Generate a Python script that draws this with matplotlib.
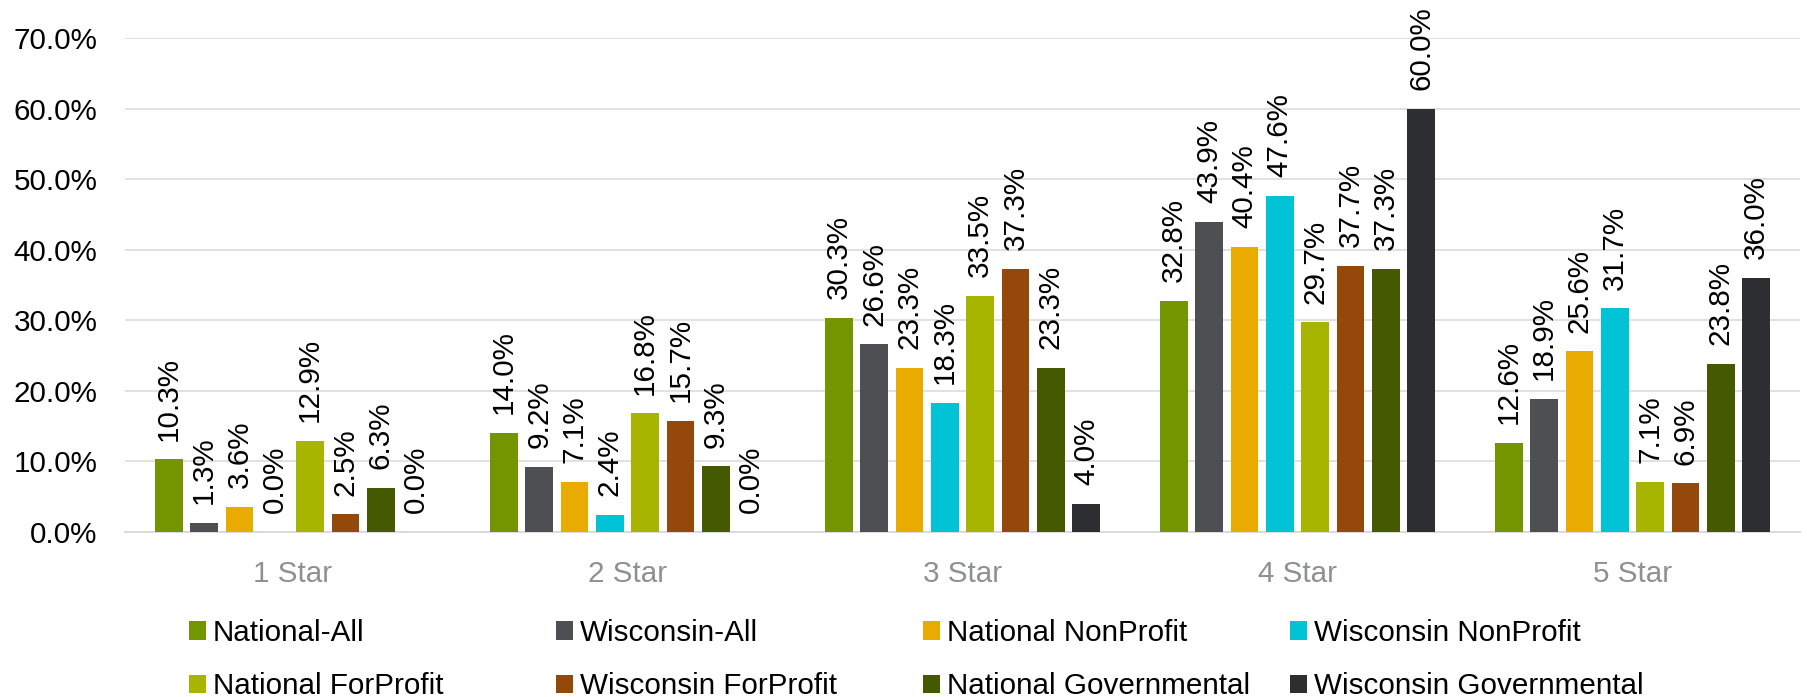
import numpy as np
import matplotlib
matplotlib.use("Agg")
import matplotlib.pyplot as plt
from matplotlib.ticker import FuncFormatter

plt.rcParams['font.family'] = ['Liberation Sans', 'DejaVu Sans']

# star rating categories
categories = ['1 Star', '2 Star', '3 Star', '4 Star', '5 Star']

# percentage of facilities per rating
national_all = [10.3, 14.0, 30.3, 32.8, 12.6]
wisconsin_all = [1.3, 9.2, 26.6, 43.9, 18.9]
national_nonprofit = [3.6, 7.1, 23.3, 40.4, 25.6]
wisconsin_nonprofit = [0.0, 2.4, 18.3, 47.6, 31.7]
national_forprofit = [12.9, 16.8, 33.5, 29.7, 7.1]
wisconsin_forprofit = [2.5, 15.7, 37.3, 37.7, 6.9]
national_gov = [6.3, 9.3, 23.3, 37.3, 23.8]
wisconsin_gov = [0.0, 0.0, 4.0, 60.0, 36.0]

series_names = ['National-All', 'Wisconsin-All', 'National NonProfit', 'Wisconsin NonProfit',
                'National ForProfit', 'Wisconsin ForProfit', 'National Governmental',
                'Wisconsin Governmental']
series_vals = [national_all, wisconsin_all, national_nonprofit, wisconsin_nonprofit,
               national_forprofit, wisconsin_forprofit, national_gov, wisconsin_gov]
colors = ['#739600', '#4D4F53', '#E9AB00', '#00C4D6',
          '#A7B400', '#94490B', '#445900', '#2D2E32']

FS = 21.3
W, H = 1808, 697
fig = plt.figure(figsize=(W / 100, H / 100), dpi=100)
ax = fig.add_axes([125 / W, 1 - 532 / H, (1800 - 125) / W, (532 - 38) / H])

x = np.arange(len(categories))
pitch = 0.1054
bw = 0.082
bars = []
for i, (name, vals) in enumerate(zip(series_names, series_vals)):
    pos = x + (i - 3.5) * pitch
    b = ax.bar(pos, vals, width=bw, color=colors[i], label=name, zorder=3)
    bars.append(b)
    for px, v in zip(pos, vals):
        ax.annotate(f"{v:.1f}%", (px, v), xytext=(0, 13.5), textcoords='offset points',
                    rotation=90, ha='center', va='bottom', fontsize=FS, color='black',
                    annotation_clip=False)

ax.set_xlim(-0.5, len(categories) - 0.5)
ax.set_ylim(0, 70)
ax.set_yticks(np.arange(0, 71, 10))
ax.yaxis.set_major_formatter(FuncFormatter(lambda v, p: f"{v:.1f}%"))
ax.set_xticks(x)
ax.set_xticklabels(categories)
ax.tick_params(axis='y', length=0, pad=20, labelsize=FS, labelcolor='black')
ax.tick_params(axis='x', length=0, pad=20.5, labelsize=FS, labelcolor='#8E9096')
ax.grid(axis='y', color='#D9D9D9', linewidth=1.1, zorder=0)
for s in ['top', 'right', 'left']:
    ax.spines[s].set_visible(False)
ax.spines['bottom'].set_color('#D9D9D9')
ax.spines['bottom'].set_linewidth(1.3)

# legend: 4 evenly spaced columns, two rows each
col_x = [189, 556, 923, 1290]
for j, cx in enumerate(col_x):
    fig.legend([bars[j], bars[j + 4]], [series_names[j], series_names[j + 4]],
               loc='upper left', bbox_to_anchor=(cx / W, 1 - 619 / H),
               frameon=False, fontsize=FS, handlelength=0.57, handleheight=0.57,
               handletextpad=0.24, labelspacing=0.85, borderpad=0, borderaxespad=0)

fig.savefig('out.png', dpi=100)
